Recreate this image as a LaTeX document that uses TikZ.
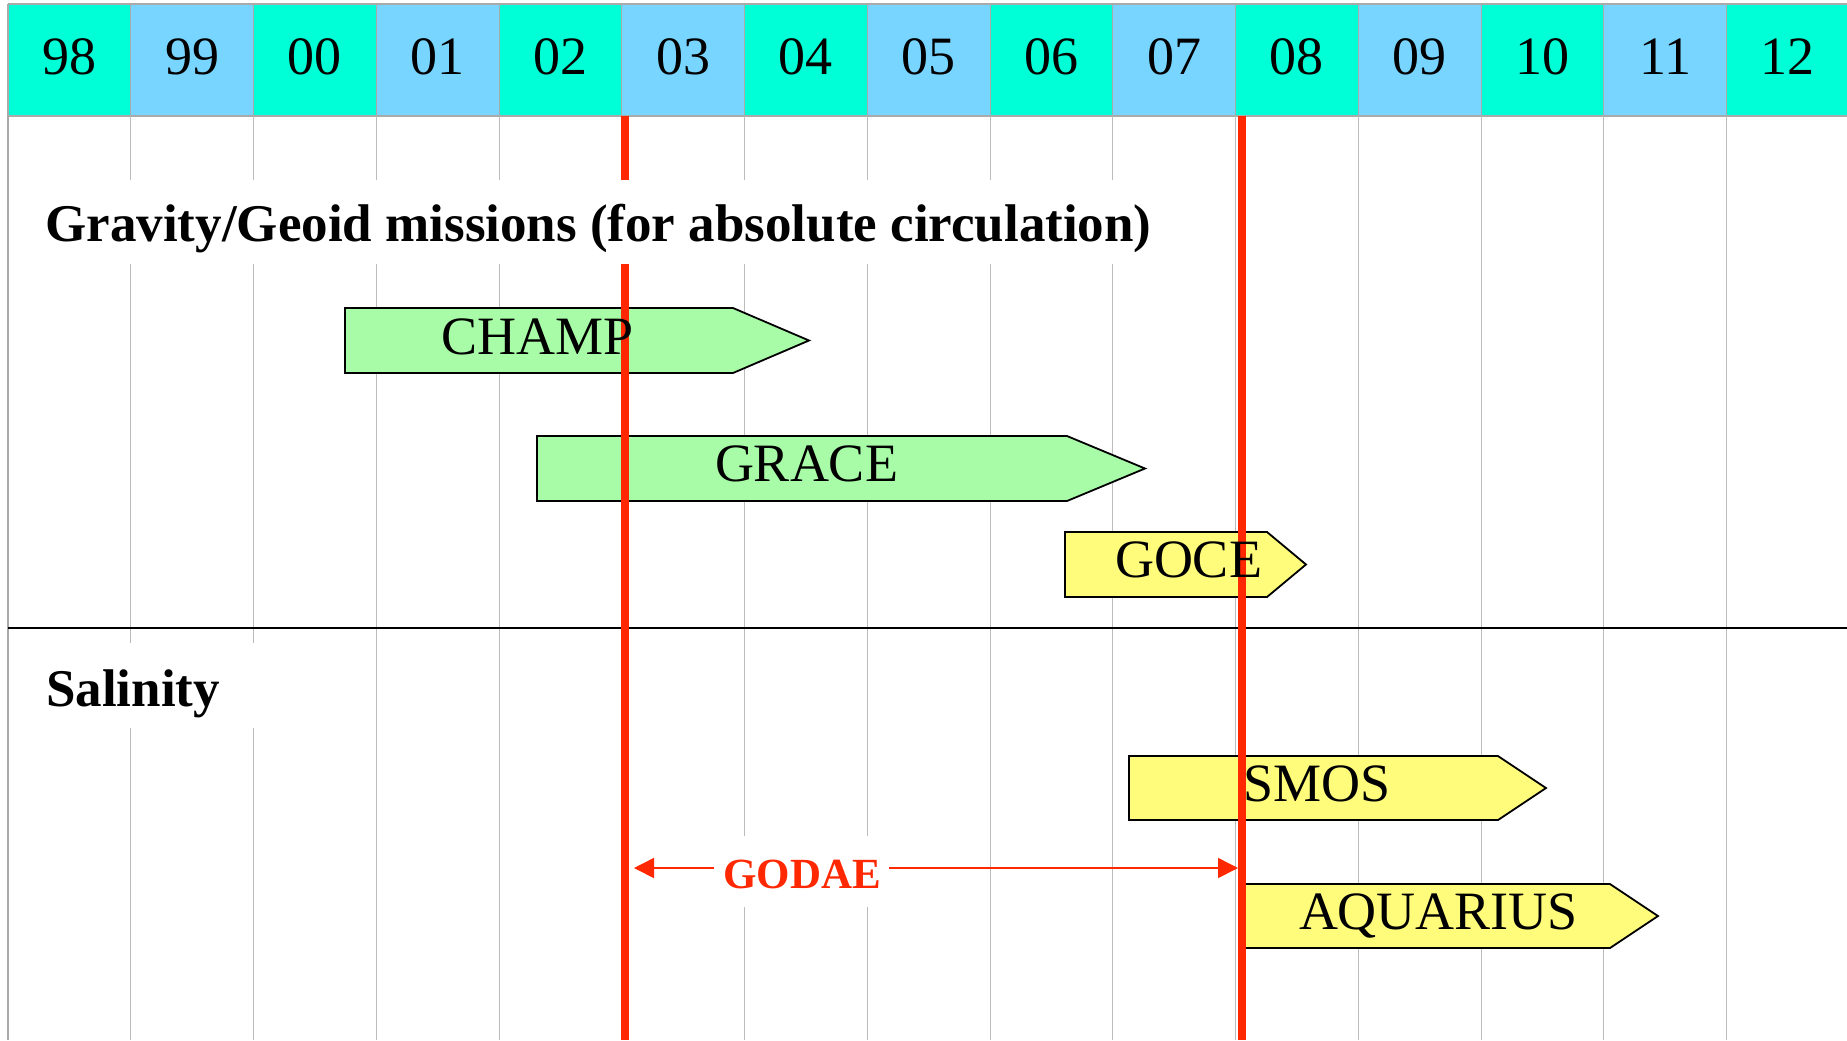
\documentclass[tikz,border=0pt]{standalone}
\usepackage{fontspec}
\setmainfont{Liberation Serif}
\usetikzlibrary{arrows.meta}
\definecolor{turq}{RGB}{0,255,214}
\definecolor{lblue}{RGB}{120,213,255}
\definecolor{bargreen}{RGB}{168,252,168}
\definecolor{baryellow}{RGB}{255,252,124}
\definecolor{godred}{RGB}{255,40,0}
\definecolor{gridgray}{RGB}{188,188,188}
\definecolor{hdrgray}{RGB}{170,170,170}
\tikzset{
  gridline/.style={draw=gridgray, line width=0.5pt},
  hdrcell/.style={draw=hdrgray, line width=0.5pt},
  barshape/.style={draw=black, line width=0.9pt, line join=miter},
  greenbar/.style={barshape, fill=bargreen},
  yellowbar/.style={barshape, fill=baryellow},
  redline/.style={draw=godred, line width=4pt},
  hdrtext/.style={anchor=base, inner sep=0pt, font=\fontsize{27}{32}\selectfont},
  bartext/.style={anchor=base, inner sep=0pt, font=\fontsize{27}{32}\selectfont},
  headtext/.style={anchor=base west, inner sep=0pt, font=\fontsize{26.5}{32}\selectfont\bfseries},
  godtext/.style={anchor=base west, inner sep=0pt, text=godred, font=\fontsize{21.5}{26}\selectfont\bfseries},
  godarrow/.style={draw=godred, line width=0.8pt, {Triangle[length=10pt,width=10pt]}-{Triangle[length=10pt,width=10pt]}}
}
\begin{document}
\begin{tikzpicture}[x=0.5pt,y=-0.5pt]
\useasboundingbox (0,0) rectangle (1847,1040);
\clip (0,0) rectangle (1847,1040);
\fill[white] (0,0) rectangle (1847,1040);
% header cells
\foreach \i/\lab in {0/98,1/99,2/00,3/01,4/02,5/03,6/04,7/05,8/06,9/07,10/08,11/09,12/10,13/11,14/12}{
  \pgfmathsetmacro\xl{8+122.75*\i}
  \pgfmathsetmacro\xr{8+122.75*(\i+1)}
  \pgfmathsetmacro\xc{8+122.75*(\i+0.5)}
  \ifodd\i
    \fill[lblue] (\xl,4) rectangle (\xr,116);
  \else
    \fill[turq] (\xl,4) rectangle (\xr,116);
  \fi
  \draw[hdrcell] (\xl,4) -- (\xl,116);
  \node[hdrtext] (yr\lab) at (\xc,74) {\lab};
}
\draw[draw=hdrgray, line width=1pt] (8,4) -- (1847,4);
\draw[draw=hdrgray, line width=1pt] (8,116) -- (1847,116);
% grid lines
\foreach \i in {1,...,14}{
  \draw[gridline] ({8+122.75*\i},116) -- ({8+122.75*\i},1040);
}
\draw[draw=hdrgray, line width=1pt] (8,4) -- (8,1040);
% section separator
\draw[black, line width=1pt] (8,628) -- (1847,628);
% bars
\draw[greenbar] (345,308) -- (733,308) -- (809,340.5) -- (733,373) -- (345,373) -- cycle;
\draw[greenbar] (537,436) -- (1067,436) -- (1145,468.5) -- (1067,501) -- (537,501) -- cycle;
\draw[yellowbar] (1065,532) -- (1267,532) -- (1306,564.5) -- (1267,597) -- (1065,597) -- cycle;
\draw[yellowbar] (1129,756) -- (1498,756) -- (1546,788) -- (1498,820) -- (1129,820) -- cycle;
\draw[yellowbar] (1241,884) -- (1610,884) -- (1658,916) -- (1610,948) -- (1241,948) -- cycle;
% red lines
\coordinate (r1top) at (624.5,116);
\coordinate (r1bot) at (624.5,1040);
\coordinate (r2top) at (1241.7,116);
\coordinate (r2bot) at (1241.7,1040);
\draw[redline] (r1top) -- (r1bot);
\draw[redline] (r2top) -- (r2bot);
% GODAE arrow
\coordinate (gL) at (634,868);
\coordinate (gR) at (1238,868);
\draw[godarrow] (gL) -- (gR);
% white label backgrounds
\fill[white] (20,180) rectangle (1170,264);
\fill[white] (20,643) rectangle (300,728);
\fill[white] (714,836) rectangle (889,907);
% labels
\node[headtext] (title) at (45,241) {Gravity/Geoid missions (for absolute circulation)};
\node[headtext] (salinity) at (45.7,706) {Salinity};
\node[godtext] (godae) at (723,888) {GODAE};
\node[bartext] (champ) at (538,354) {CHAMP};
\node[bartext] (grace) at (806.5,481.7) {GRACE};
\node[bartext] (goce) at (1188.5,577) {GOCE};
\node[bartext] (smos) at (1317,801.7) {SMOS};
\node[bartext] (aquarius) at (1438.5,929.5) {AQUARIUS};
\end{tikzpicture}
\end{document}
